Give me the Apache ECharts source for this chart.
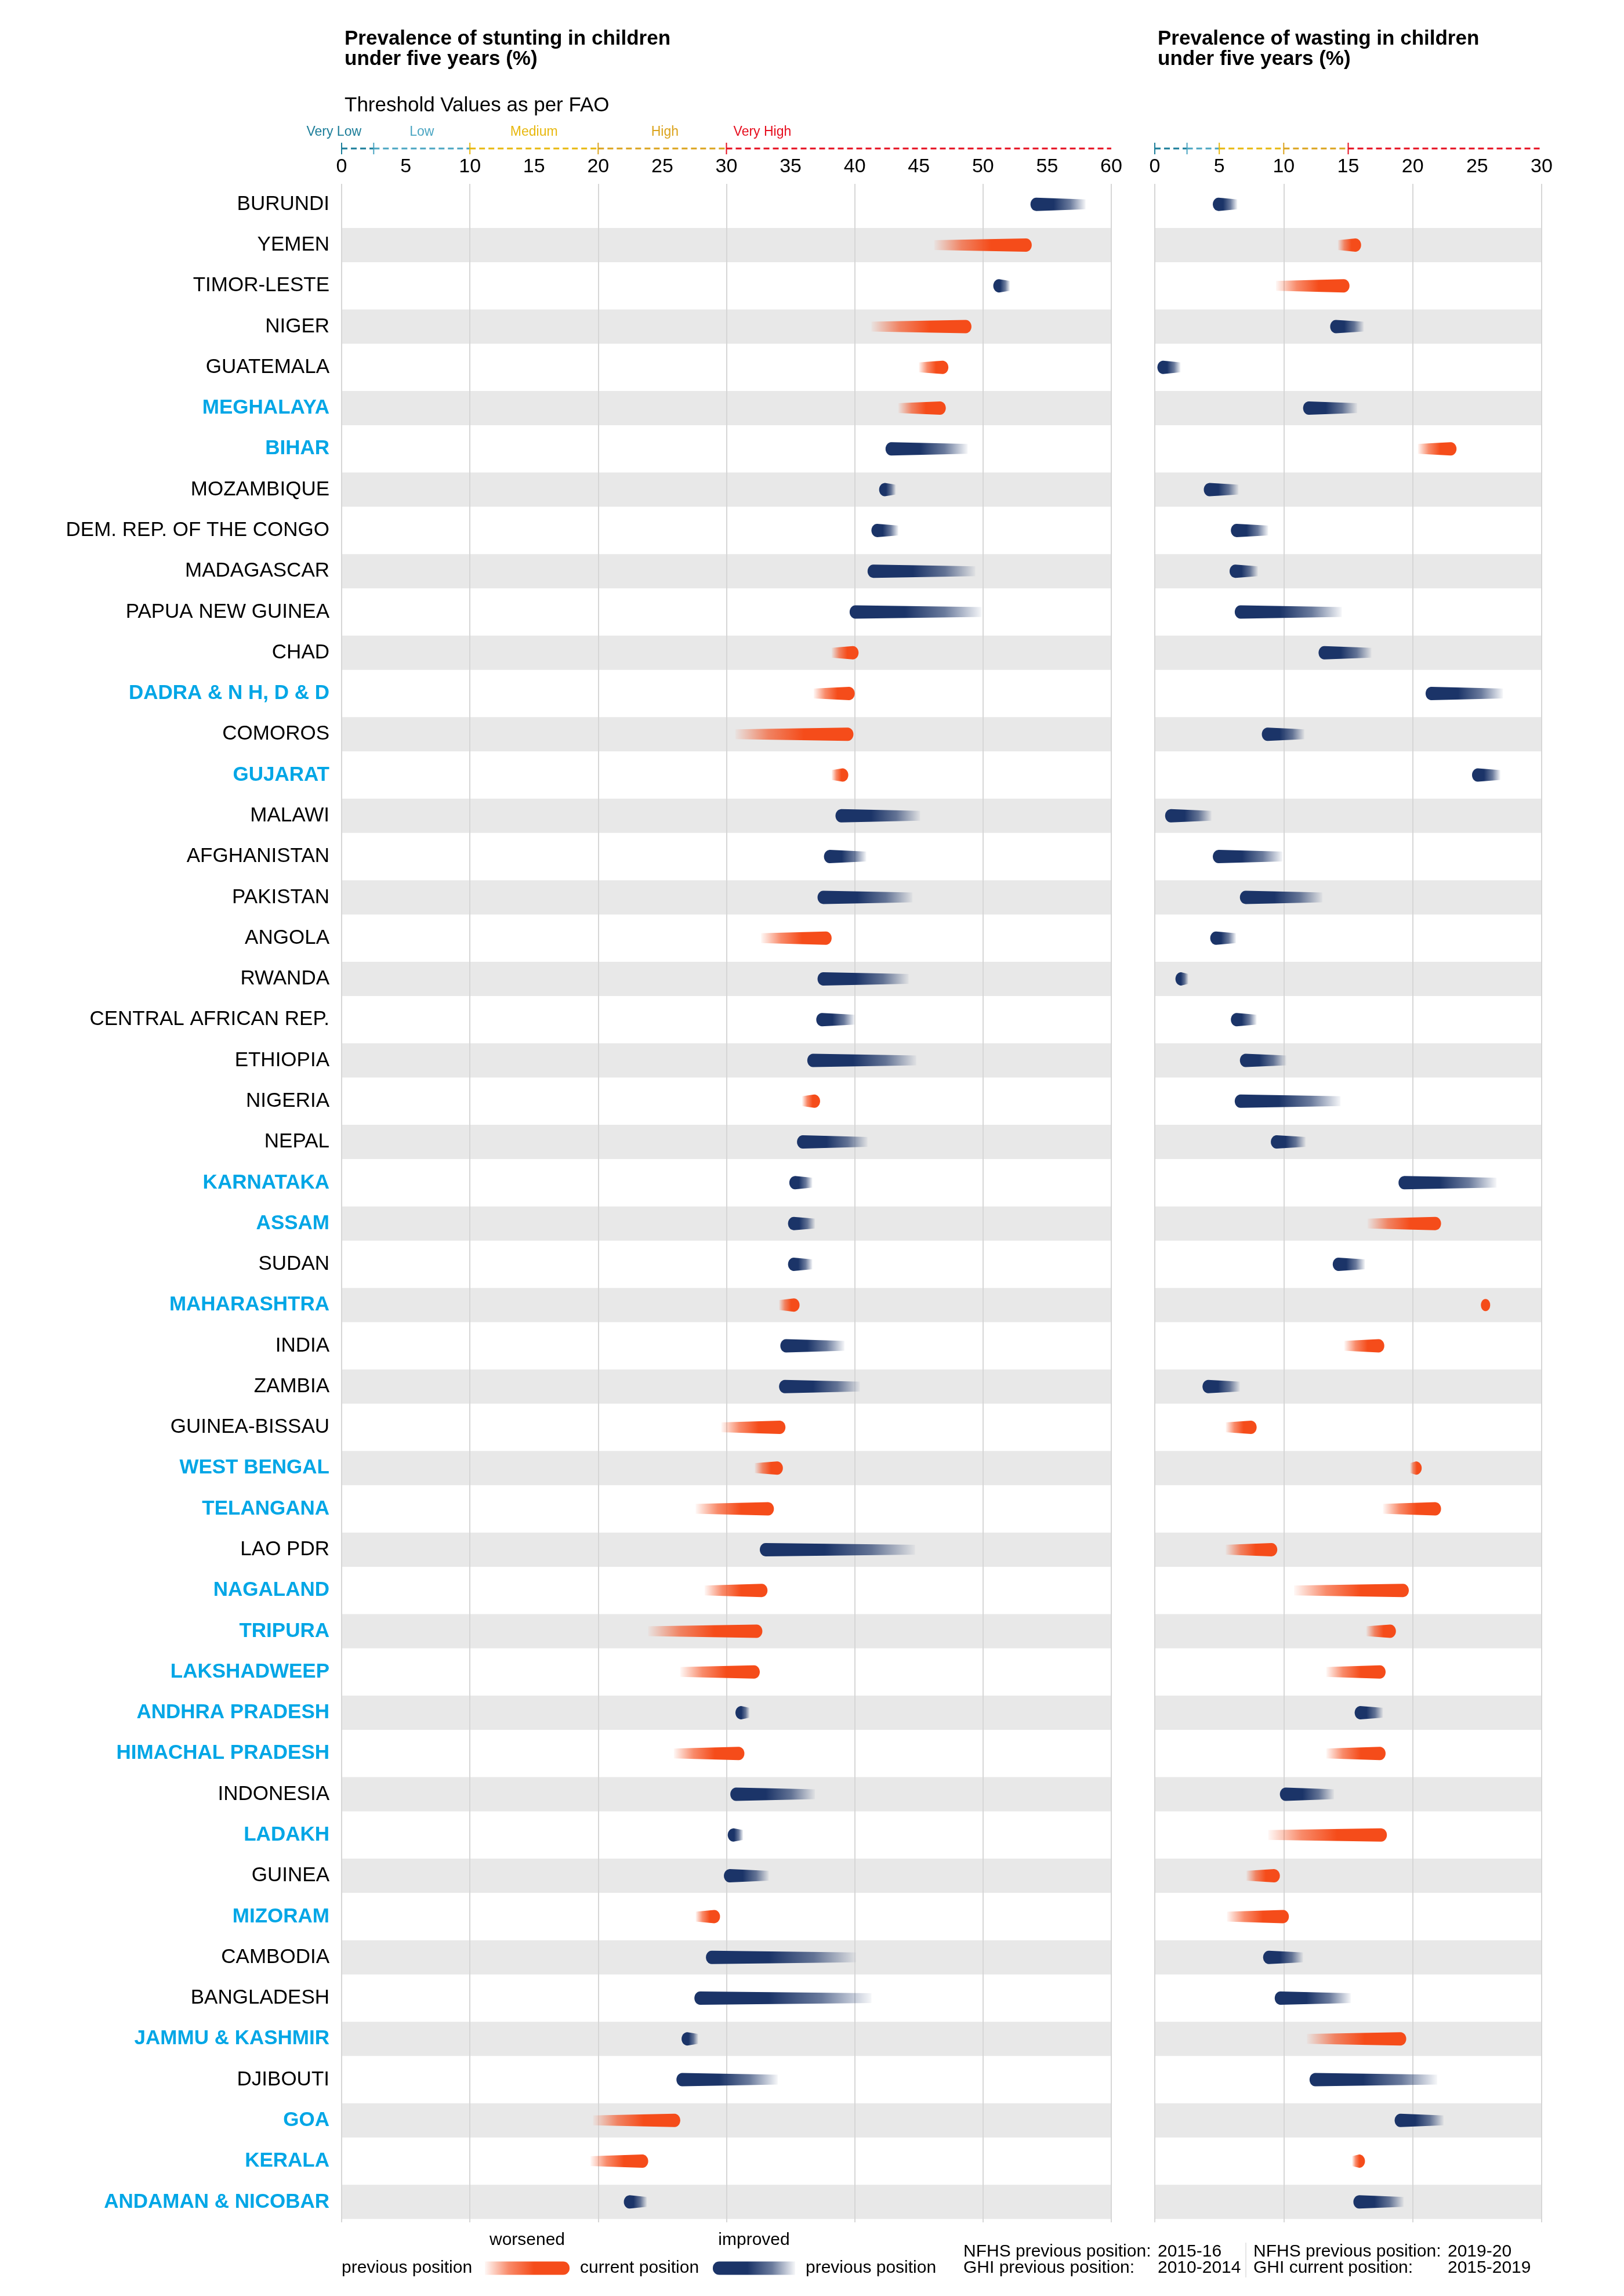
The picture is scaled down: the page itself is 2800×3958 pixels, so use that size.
<!DOCTYPE html>
<html>
<head>
<meta charset="utf-8">
<script src="https://cdn.jsdelivr.net/npm/echarts@6/dist/echarts.min.js"></script>
<style>
html,body{margin:0;padding:0;background:#fff;}
#chart{width:2800px;height:3958px;}
</style>
</head>
<body>
<div id="chart"></div>
<script>
// ---------------- DATA ----------------
const regions = [
  'BURUNDI','YEMEN','TIMOR-LESTE','NIGER','GUATEMALA','MEGHALAYA','BIHAR','MOZAMBIQUE',
  'DEM. REP. OF THE CONGO','MADAGASCAR','PAPUA NEW GUINEA','CHAD','DADRA & N H, D & D','COMOROS',
  'GUJARAT','MALAWI','AFGHANISTAN','PAKISTAN','ANGOLA','RWANDA','CENTRAL AFRICAN REP.','ETHIOPIA',
  'NIGERIA','NEPAL','KARNATAKA','ASSAM','SUDAN','MAHARASHTRA','INDIA','ZAMBIA','GUINEA-BISSAU',
  'WEST BENGAL','TELANGANA','LAO PDR','NAGALAND','TRIPURA','LAKSHADWEEP','ANDHRA PRADESH',
  'HIMACHAL PRADESH','INDONESIA','LADAKH','GUINEA','MIZORAM','CAMBODIA','BANGLADESH',
  'JAMMU & KASHMIR','DJIBOUTI','GOA','KERALA','ANDAMAN & NICOBAR'
];
const indianStates = [
  'MEGHALAYA','BIHAR','DADRA & N H, D & D','GUJARAT','KARNATAKA','ASSAM','MAHARASHTRA',
  'WEST BENGAL','TELANGANA','NAGALAND','TRIPURA','LAKSHADWEEP','ANDHRA PRADESH',
  'HIMACHAL PRADESH','LADAKH','MIZORAM','JAMMU & KASHMIR','GOA','KERALA','ANDAMAN & NICOBAR'
];
const stuntingPrevious = [
  58.0,46.2,52.1,41.3,45.0,43.4,48.8,43.2,43.4,49.4,49.9,38.2,36.8,30.7,38.2,45.1,40.9,44.5,
  32.7,44.2,40.0,44.8,35.9,41.0,36.7,36.9,36.7,34.1,39.2,40.4,29.6,32.2,27.6,44.7,28.3,23.9,
  26.4,31.8,25.9,36.9,31.3,33.3,27.6,40.1,41.3,27.8,34.0,19.6,19.4,23.8
];
const stuntingCurrent = [
  53.7,53.8,50.8,49.1,47.3,47.1,42.4,41.9,41.3,41.0,39.6,40.3,40.0,39.9,39.5,38.5,37.6,37.1,
  38.2,37.1,37.0,36.3,37.3,35.5,34.9,34.8,34.8,35.7,34.2,34.1,34.6,34.4,33.7,32.6,33.2,32.8,
  32.6,30.7,31.4,30.3,30.1,29.8,29.5,28.4,27.5,26.5,26.1,26.4,23.9,22.0
];
const wastingPrevious = [
  6.4,14.2,9.4,16.2,2.0,15.7,20.4,6.5,8.8,8.0,14.5,16.8,27.0,11.6,26.8,4.4,9.9,13.0,6.3,2.6,
  7.9,10.2,14.4,11.7,26.5,16.5,16.3,25.3,14.7,6.6,5.5,19.8,17.7,5.5,10.8,16.4,13.3,17.7,13.3,
  13.9,8.8,7.1,5.6,11.5,15.2,11.8,21.9,22.4,15.3,19.3
];
const wastingCurrent = [
  4.5,16.0,15.1,13.6,0.2,11.5,23.4,3.8,5.9,5.8,6.2,12.7,21.0,8.3,24.6,0.8,4.5,6.6,4.3,1.6,
  5.9,6.6,6.2,9.0,18.9,22.2,13.8,26.0,17.8,3.7,7.9,20.7,22.2,9.5,19.7,18.7,17.9,15.5,17.9,
  9.7,18.0,9.7,10.4,8.4,9.3,19.5,12.0,18.6,16.3,15.4
];
const stuntingThresholds = [0, 2.5, 10, 20, 30, 60];
const wastingThresholds = [0, 2.5, 5, 10, 15, 30];
const thresholdLabels = ['Very Low', 'Low', 'Medium', 'High', 'Very High'];
const thresholdLabelValues = [-0.6, 6.25, 15, 25.2, 32.8];

// ---------------- STYLE ----------------
const FONT = '"Liberation Sans", Arial, Helvetica, sans-serif';
const ORANGE = [245, 76, 26];
const BLUE = [27, 52, 104];
const STATE_COLOR = '#00a6e6';
const BAND_COLOR = '#e8e8e8';
const GRID_COLOR = '#d6d6d6';
const thresholdColors = ['#1b7d99', '#4aa5c2', '#e8b80e', '#dba31c', '#e60e1e'];

const GRID_TOP = 317;
const GRID_H = 3514;

function rgba(c, a) { return 'rgba(' + c[0] + ',' + c[1] + ',' + c[2] + ',' + a + ')'; }

function barData(prev, curr) {
  return regions.map(function (r, i) { return [i, prev[i], curr[i]]; });
}
function bandData() {
  const out = [];
  for (let i = 1; i < regions.length; i += 2) out.push([i]);
  return out;
}
function thresholdData(th, withLabels) {
  const out = [];
  for (let k = 0; k < th.length - 1; k++) {
    out.push([th[k], th[k + 1], k, withLabels ? thresholdLabelValues[k] : -999]);
  }
  return out;
}

function renderBand(params, api) {
  const cs = params.coordSys;
  const y = api.coord([0, api.value(0)])[1];
  return { type: 'rect', shape: { x: cs.x, y: y - 29.5, width: cs.width, height: 59 },
           style: { fill: BAND_COLOR } };
}

function renderBar(params, api) {
  const i = api.value(0), prev = api.value(1), cur = api.value(2);
  const a = api.coord([cur, i]);
  const b = api.coord([prev, i]);
  const worse = cur > prev;
  const c = worse ? ORANGE : BLUE;
  const y = a[1];
  const len = Math.abs(b[0] - a[0]);
  const dir = b[0] >= a[0] ? 1 : -1;
  const pts = [];
  if (len < 18) {
    const cx = (a[0] + b[0]) / 2, rx = Math.max(len / 2, 8), ry = 10.5;
    for (let k = 0; k < 28; k++) {
      const t = k / 28 * Math.PI * 2;
      pts.push([cx + rx * Math.cos(t), y + ry * Math.sin(t)]);
    }
    return { type: 'polygon', shape: { points: pts }, style: { fill: rgba(c, 1) } };
  }
  const hc = 11.5, hp = 8.5, rx = 10;
  const xc = a[0] + dir * rx, xp = b[0];
  pts.push([xc, y - hc], [xp, y - hp], [xp, y + hp], [xc, y + hc]);
  const N = 14;
  for (let k = 1; k < N; k++) {
    const phi = Math.PI / 2 + Math.PI * k / N;
    pts.push([xc + dir * rx * Math.cos(phi), y + hc * Math.sin(phi)]);
  }
  const grad = new echarts.graphic.LinearGradient(a[0], 0, b[0], 0, [
    { offset: 0, color: rgba(c, 1) },
    { offset: 0.42, color: rgba(c, 1) },
    { offset: 0.72, color: rgba(c, 0.65) },
    { offset: 1, color: rgba(c, 0.04) }
  ], true);
  return { type: 'polygon', shape: { points: pts }, style: { fill: grad } };
}

function renderThreshold(params, api) {
  const cs = params.coordSys;
  const s = api.value(0), e = api.value(1), k = api.value(2), lv = api.value(3);
  const yLine = cs.y - 61;
  const x0 = api.coord([s, 0])[0], x1 = api.coord([e, 0])[0];
  const col = thresholdColors[k];
  const children = [
    { type: 'line', shape: { x1: x0, y1: yLine, x2: x1, y2: yLine },
      style: { stroke: col, lineWidth: 3, lineDash: [10, 6] } },
    { type: 'line', shape: { x1: x0, y1: yLine - 10, x2: x0, y2: yLine + 10 },
      style: { stroke: col, lineWidth: 2 } }
  ];
  if (lv > -100) {
    const lx = api.coord([lv, 0])[0];
    children.push({ type: 'text', x: lx, y: cs.y - 89,
      style: { text: thresholdLabels[k], fill: col, font: '23px ' + FONT, align: 'center', verticalAlign: 'middle' } });
  }
  return { type: 'group', children: children };
}

function labelFormatter(v) {
  return indianStates.indexOf(v) >= 0 ? '{s|' + v + '}' : '{c|' + v + '}';
}

const chart = echarts.init(document.getElementById('chart'), null, { renderer: 'canvas', width: 2800, height: 3958 });

function valueAxis(grid, max, interval, labels) {
  return {
    type: 'value', gridIndex: grid, min: 0, max: max, interval: interval, position: 'top',
    axisLine: { show: false }, axisTick: { show: false },
    axisLabel: labels ? { show: true, fontSize: 34, color: '#000', fontFamily: FONT, margin: 12 } : { show: false },
    splitLine: labels ? { show: false } : { show: true, lineStyle: { color: GRID_COLOR, width: 2 } },
    z: labels ? 2 : 3
  };
}
function catAxis(grid, showLabels) {
  return {
    type: 'category', gridIndex: grid, data: regions, inverse: true,
    axisLine: { show: false }, axisTick: { show: false }, splitLine: { show: false },
    axisLabel: showLabels ? {
      show: true, interval: 0, margin: 21, formatter: labelFormatter,
      rich: {
        s: { color: STATE_COLOR, fontWeight: 'bold', fontSize: 35, fontFamily: FONT },
        c: { color: '#000', fontSize: 35, fontFamily: FONT }
      }
    } : { show: false }
  };
}

function legendBar(x, w, c, fadeLeft) {
  return {
    type: 'rect', shape: { x: x, y: 3898.5, width: w, height: 23, r: fadeLeft ? [0, 11, 11, 0] : [11, 0, 0, 11] },
    style: { fill: new echarts.graphic.LinearGradient(fadeLeft ? 1 : 0, 0, fadeLeft ? 0 : 1, 0, [
      { offset: 0, color: rgba(c, 1) }, { offset: 0.42, color: rgba(c, 1) },
      { offset: 0.72, color: rgba(c, 0.65) }, { offset: 1, color: rgba(c, 0.04) }]) }
  };
}
function txt(t, x, y, align, size) {
  return { type: 'text', x: x, y: y, style: { text: t, fill: '#000', font: (size || 30) + 'px ' + FONT,
    align: align || 'left', verticalAlign: 'middle' } };
}

const option = {
  backgroundColor: '#fff',
  animation: false,
  textStyle: { fontFamily: FONT },
  title: [
    { text: 'Prevalence of stunting in children\nunder five years (%)', left: 589, top: 45,
      textStyle: { fontSize: 35, fontWeight: 'bold', color: '#000', lineHeight: 35, fontFamily: FONT } },
    { text: 'Prevalence of wasting in children\nunder five years (%)', left: 1991, top: 45,
      textStyle: { fontSize: 35, fontWeight: 'bold', color: '#000', lineHeight: 35, fontFamily: FONT } },
    { text: 'Threshold Values as per FAO', left: 589, top: 159,
      textStyle: { fontSize: 35, fontWeight: 'normal', color: '#000', lineHeight: 36, fontFamily: FONT } }
  ],
  grid: [
    { left: 589, width: 1327, top: GRID_TOP, height: GRID_H },
    { left: 1991, width: 667, top: GRID_TOP, height: GRID_H }
  ],
  xAxis: [
    valueAxis(0, 60, 5, true), valueAxis(0, 60, 10, false),
    valueAxis(1, 30, 5, true), valueAxis(1, 30, 10, false)
  ],
  yAxis: [catAxis(0, true), catAxis(1, false)],
  series: [
    { type: 'custom', name: 'bandsL', xAxisIndex: 0, yAxisIndex: 0, data: bandData(), renderItem: renderBand, z: 1, silent: true },
    { type: 'custom', name: 'bandsR', xAxisIndex: 2, yAxisIndex: 1, data: bandData(), renderItem: renderBand, z: 1, silent: true },
    { type: 'custom', name: 'stunting', xAxisIndex: 0, yAxisIndex: 0, data: barData(stuntingPrevious, stuntingCurrent),
      renderItem: renderBar, z: 6, clip: false, encode: { x: [1, 2], y: 0 } },
    { type: 'custom', name: 'wasting', xAxisIndex: 2, yAxisIndex: 1, data: barData(wastingPrevious, wastingCurrent),
      renderItem: renderBar, z: 6, clip: false, encode: { x: [1, 2], y: 0 } },
    { type: 'custom', name: 'thrL', xAxisIndex: 0, yAxisIndex: 0, data: thresholdData(stuntingThresholds, true),
      renderItem: renderThreshold, z: 6, clip: false, encode: { x: [0, 1] } },
    { type: 'custom', name: 'thrR', xAxisIndex: 2, yAxisIndex: 1, data: thresholdData(wastingThresholds, false),
      renderItem: renderThreshold, z: 6, clip: false, encode: { x: [0, 1] } }
  ],
  graphic: [
    txt('worsened', 909, 3862, 'center'),
    txt('improved', 1300, 3862, 'center'),
    txt('previous position', 589, 3910),
    legendBar(836, 146, ORANGE, true),
    txt('current position', 1000, 3910),
    legendBar(1229, 142, BLUE, false),
    txt('previous position', 1389, 3910),
    txt('NFHS previous position:', 1661, 3882),
    txt('2015-16', 1996, 3882),
    txt('GHI previous position:', 1661, 3910),
    txt('2010-2014', 1996, 3910),
    { type: 'line', shape: { x1: 2148, y1: 3866, x2: 2148, y2: 3926 }, style: { stroke: '#cccccc', lineWidth: 1 } },
    txt('NFHS previous position:', 2161, 3882),
    txt('2019-20', 2496, 3882),
    txt('GHI current position:', 2161, 3910),
    txt('2015-2019', 2496, 3910)
  ]
};
chart.setOption(option);
</script>
</body>
</html>
